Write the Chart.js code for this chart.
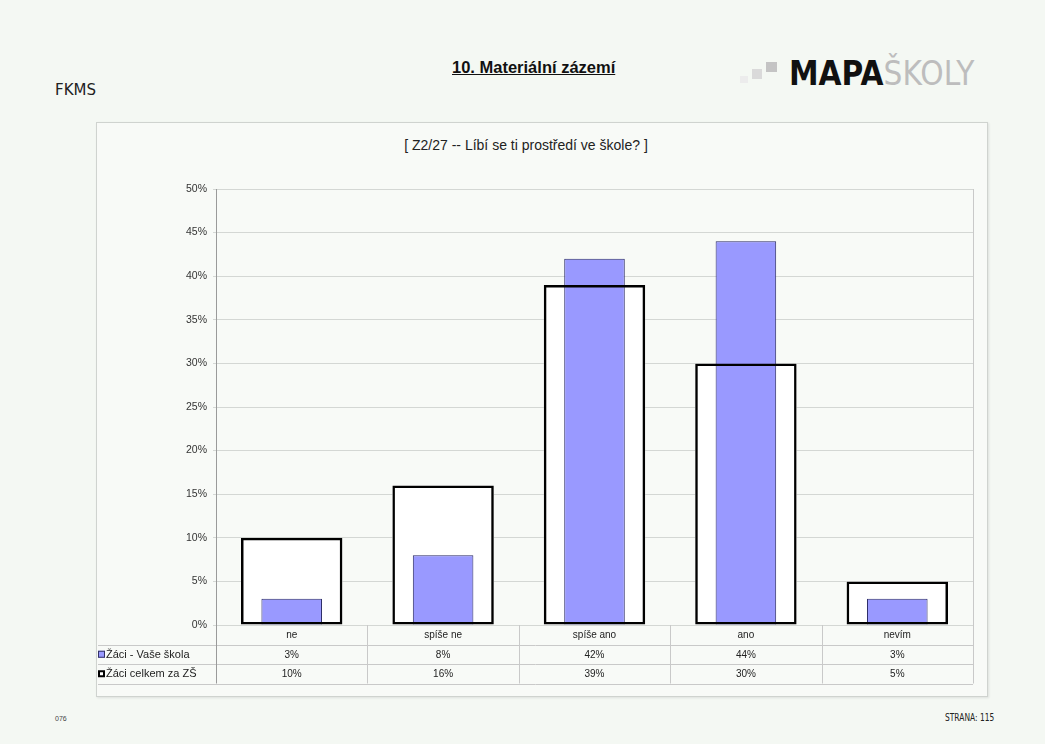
<!DOCTYPE html>
<html>
<head>
<meta charset="utf-8">
<script src="https://cdn.jsdelivr.net/npm/chart.js@4"></script>
<style>
  html, body { margin:0; padding:0; background:#f4f8f3; }
  body { width:1045px; height:744px; position:relative; overflow:hidden; font-family:"Liberation Sans", Arial, sans-serif; }
  .abs { position:absolute; white-space:nowrap; }
  #fkms { left:55px; top:81px; font-family:"DejaVu Sans", Verdana, sans-serif; font-size:15px; color:#222; }
  #head { left:452px; top:58px; font-weight:bold; font-size:16.5px; text-decoration:underline; color:#111; }
  #logo { left:789px; top:54px; font-family:"DejaVu Sans", sans-serif; font-weight:bold; font-size:33px; color:#111; transform:scaleX(0.90); transform-origin:left top; }
  #logo span { color:#bdbdbd; font-weight:normal; }
  .sq { position:absolute; }
  #box { position:absolute; left:96px; top:122px; width:892px; height:575px; border:1px solid #cfd3cf; background:#f8faf7; box-sizing:border-box; box-shadow:1px 1px 2px #dde0dd; }
  #sub { left:0; width:858px; top:14px; text-align:center; font-size:14px; color:#222; }
  #wrap { position:absolute; left:0; top:0; width:890px; height:573px; }
  #foot1 { left:55px; top:715px; font-size:7px; color:#444; }
  #foot2 { left:945px; top:712px; font-family:"DejaVu Sans", sans-serif; font-size:10px; color:#222; transform:scaleX(0.75); transform-origin:left top; }
</style>
</head>
<body>
<div id="fkms" class="abs">FKMS</div>
<div id="head" class="abs">10. Materiální zázemí</div>
<div class="sq" style="left:740px;top:76px;width:8px;height:7px;background:#ececec"></div>
<div class="sq" style="left:752px;top:69px;width:10px;height:10px;background:#dadada"></div>
<div class="sq" style="left:766px;top:62px;width:11px;height:10px;background:#c4c4c4"></div>
<div id="logo" class="abs">MAPA<span>ŠKOLY</span></div>
<div id="box">
  <div id="sub" class="abs">[ Z2/27 -- Líbí se ti prostředí ve škole? ]</div>
  <div id="wrap"><canvas id="c"></canvas></div>
</div>
<div id="foot1" class="abs">076</div>
<div id="foot2" class="abs">STRANA: 115</div>

<script>
const categories = ["ne", "spíše ne", "spíše ano", "ano", "nevím"];
const seriesNames = ["Žáci - Vaše škola", "Žáci celkem za ZŠ"];
const skola = [3, 8, 42, 44, 3];
const celkem = [10, 16, 39, 30, 5];
const yTicks = [0, 5, 10, 15, 20, 25, 30, 35, 40, 45, 50];

const tablePlugin = {
  id: 'tablePlugin',
  beforeDatasetsDraw(chart) {
    const ctx = chart.ctx;
    const meta = chart.getDatasetMeta(1);
    ctx.save();
    ctx.fillStyle = '#ffffff';
    meta.data.forEach(el => {
      const p = el.getProps(['x','y','base','width'], true);
      ctx.fillRect(p.x - p.width/2, p.y, p.width, p.base - p.y);
    });
    ctx.restore();
  },
  afterDraw(chart) {
    const ctx = chart.ctx;
    const x = chart.scales.x;
    const ca = chart.chartArea;
    const rowH = 19.5;
    const left = 1;
    const top = ca.bottom;
    const bottom = top + rowH * 3;
    ctx.save();
    ctx.strokeStyle = '#c9c9c9';
    ctx.lineWidth = 1;
    ctx.beginPath();
    ctx.moveTo(ca.right + 0.5, ca.top); ctx.lineTo(ca.right + 0.5, bottom);
    for (let r = 1; r <= 3; r++) {
      const yy = Math.round(top + rowH * r) + 0.5;
      ctx.moveTo(left, yy); ctx.lineTo(ca.right, yy);
    }
    const w = (ca.right - ca.left) / categories.length;
    for (let i = 1; i < categories.length; i++) {
      const xx = Math.round(ca.left + w * i) + 0.5;
      ctx.moveTo(xx, top); ctx.lineTo(xx, bottom);
    }
    ctx.stroke();
    ctx.strokeStyle = '#9a9a9a';
    ctx.beginPath();
    ctx.moveTo(ca.left + 0.5, top); ctx.lineTo(ca.left + 0.5, bottom);
    ctx.stroke();
    ctx.font = '10px "Liberation Sans", Arial';
    ctx.fillStyle = '#222';
    ctx.textAlign = 'center';
    ctx.textBaseline = 'middle';
    const rows = [categories, skola.map(v => v + '%'), celkem.map(v => v + '%')];
    rows.forEach((row, r) => {
      row.forEach((t, i) => {
        ctx.fillText(t, x.getPixelForValue(i), top + rowH * r + rowH / 2 + 0.5);
      });
    });
    ctx.textAlign = 'left';
    ctx.font = '11px "Liberation Sans", Arial';
    const y1 = top + rowH * 1.5 + 0.5;
    const y2 = top + rowH * 2.5 + 0.5;
    ctx.fillStyle = '#9999ff';
    ctx.fillRect(1, y1 - 4, 7, 7);
    ctx.strokeStyle = '#333366';
    ctx.lineWidth = 1;
    ctx.strokeRect(1.5, y1 - 3.5, 6, 6);
    ctx.fillStyle = '#ffffff';
    ctx.fillRect(1, y2 - 4, 7, 7);
    ctx.strokeStyle = '#000';
    ctx.lineWidth = 2;
    ctx.strokeRect(2, y2 - 3, 5, 5);
    ctx.fillStyle = '#222';
    ctx.fillText(seriesNames[0], 9, y1);
    ctx.fillText(seriesNames[1], 9, y2);
    ctx.restore();
  }
};

new Chart(document.getElementById('c'), {
  type: 'bar',
  data: {
    labels: categories,
    datasets: [
      {
        label: seriesNames[0],
        data: skola,
        backgroundColor: '#9999ff',
        borderColor: '#2a2a66',
        borderWidth: 1,
        borderSkipped: 'bottom',
        grouped: false,
        categoryPercentage: 1,
        barPercentage: 0.40,
        order: 1
      },
      {
        label: seriesNames[1],
        data: celkem,
        backgroundColor: 'rgba(0,0,0,0)',
        borderColor: '#000000',
        borderWidth: 2.5,
        borderSkipped: false,
        grouped: false,
        categoryPercentage: 1,
        barPercentage: 0.67,
        order: 0
      }
    ]
  },
  options: {
    responsive: true,
    maintainAspectRatio: false,
    animation: false,
    layout: { padding: { left: 0, right: 14, top: 66, bottom: 71 } },
    plugins: { legend: { display: false }, tooltip: { enabled: false }, title: { display: false } },
    scales: {
      x: {
        ticks: { display: false },
        grid: { display: false, drawTicks: false },
        border: { display: false }
      },
      y: {
        min: 0, max: 50,
        afterBuildTicks(scale) { scale.ticks = yTicks.map(v => ({ value: v })); },
        afterFit(scale) { scale.width = 119; },
        ticks: {
          callback: v => v + '%',
          color: '#333',
          font: { family: '"Liberation Sans", Arial', size: 10.5 },
          padding: 6
        },
        grid: { color: '#d4d7d4', lineWidth: 1, drawTicks: true, tickLength: 3 },
        border: { color: '#9a9a9a', width: 1 }
      }
    }
  },
  plugins: [tablePlugin]
});
</script>
</body>
</html>
